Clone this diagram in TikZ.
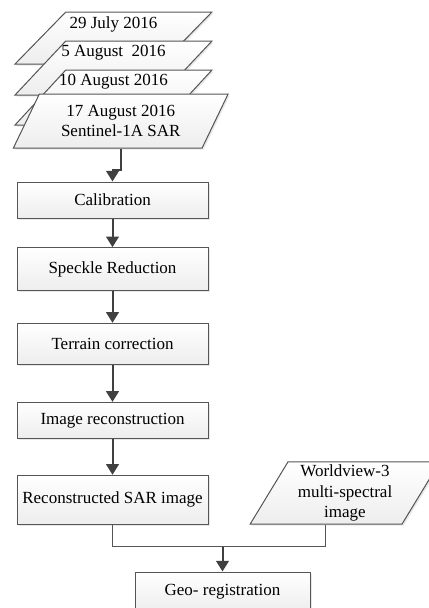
\documentclass[tikz,border=0pt]{standalone}
\usepackage{fontspec}
\setmainfont{Liberation Serif}
\usetikzlibrary{arrows.meta,shapes.geometric,positioning,shadows}
\definecolor{linegray}{HTML}{404040}
\definecolor{framegray}{HTML}{555555}
\tikzset{
  basic/.style   = {draw=framegray, line width=0.75pt, top color=white,
                    bottom color=gray!14, align=center, inner sep=2pt,
                    drop shadow={opacity=0.18, shadow xshift=1.2pt, shadow yshift=-1.2pt}},
  process/.style = {basic, rectangle, minimum width=143.25pt},
  data/.style    = {basic, trapezium, trapezium left angle=62,
                    trapezium right angle=118, trapezium stretches=true},
  scene/.style   = {data, minimum width=147.75pt},
  flow/.style    = {draw=linegray, line width=1.5pt,
                    -{Triangle[length=8pt,width=9.5pt]}},
  link/.style    = {draw=framegray, line width=0.75pt}
}

\begin{document}
\begin{tikzpicture}[x=0.75pt, y=-0.75pt,
  font=\fontsize{12.75}{15.5}\selectfont]
\useasboundingbox (0,0) rectangle (429,608);

% stack of acquisitions
\node[scene, minimum height=39pt, label={[anchor=north]north:29 July 2016}] (s1) at (113.5,38) {};
\node[scene, minimum height=40.5pt, label={[anchor=north]north:5 August~~2016}] (s2) at (113.5,68) {};
\node[scene, minimum height=41.25pt, label={[anchor=north]north:10 August 2016}] (s3) at (113.5,97.5) {};
\node[data, minimum width=161.25pt, minimum height=40.5pt] (s4) at (120.75,121)
  {17 August 2016\\Sentinel-1A SAR};

% processing chain, relatively positioned
\node[process, minimum height=27pt] (cal) at (112.5,200) {Calibration};
\node[process, minimum height=32.25pt, below of = cal, node distance=51.9pt] (spk) {Speckle Reduction};
\node[process, minimum height=30.75pt, below of = spk, node distance=55.95pt] (ter) {Terrain correction};
\node[process, minimum height=27pt, below of = ter, node distance=57.4pt] (imr) {Image reconstruction};
\node[process, minimum height=36.75pt, below of = imr, node distance=59.6pt] (rec) {Reconstructed SAR image};

\node[data, minimum width=142.5pt, minimum height=45pt] (wv) at (345,493)
  {Worldview-3\\multi-spectral\\image};
\node[process, minimum width=131.25pt, minimum height=30pt] (geo) at (222.5,592) {Geo- registration};

% connectors
\draw[flow] (s4.south) |- ([yshift=9pt]cal.north) -- (cal.north);

\foreach \a/\b in {cal/spk,spk/ter,ter/imr,imr/rec}
  \draw[flow] (\a.south) -- (\b.north);

\coordinate (join) at ([yshift=18.75pt]geo.north);
\draw[link] (rec.south) |- (join) -| (wv.bottom side);
\draw[flow] (join) -- (geo.north);
\end{tikzpicture}
\end{document}
